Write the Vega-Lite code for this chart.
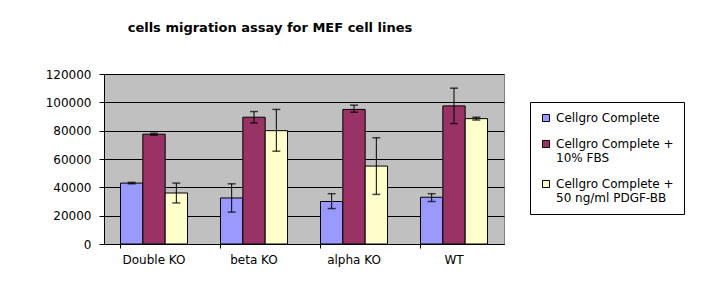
{
  "$schema": "https://vega.github.io/schema/vega-lite/v6.json",
  "width": 400,
  "height": 170,
  "autosize": {"type": "none"},
  "padding": {"left": 104, "top": 74, "right": 220, "bottom": 42},
  "background": "white",
  "title": {
    "text": "cells migration assay for MEF cell lines",
    "fontSize": 13,
    "fontWeight": "bold",
    "font": "DejaVu Sans",
    "color": "black",
    "anchor": "middle",
    "dx": -34,
    "offset": 33
  },
  "data": {
    "values": [
      {"line": "Double KO", "medium": "Cellgro Complete", "value": 43000, "lo": 42500, "hi": 43500},
      {"line": "Double KO", "medium": "Cellgro Complete + 10% FBS", "value": 77500, "lo": 76800, "hi": 78200},
      {"line": "Double KO", "medium": "Cellgro Complete + 50 ng/ml PDGF-BB", "value": 36000, "lo": 29000, "hi": 43000},
      {"line": "beta KO", "medium": "Cellgro Complete", "value": 32500, "lo": 22500, "hi": 42500},
      {"line": "beta KO", "medium": "Cellgro Complete + 10% FBS", "value": 89500, "lo": 85500, "hi": 93500},
      {"line": "beta KO", "medium": "Cellgro Complete + 50 ng/ml PDGF-BB", "value": 80000, "lo": 65500, "hi": 95000},
      {"line": "alpha KO", "medium": "Cellgro Complete", "value": 30000, "lo": 25000, "hi": 35500},
      {"line": "alpha KO", "medium": "Cellgro Complete + 10% FBS", "value": 95000, "lo": 93000, "hi": 98000},
      {"line": "alpha KO", "medium": "Cellgro Complete + 50 ng/ml PDGF-BB", "value": 55000, "lo": 35000, "hi": 75000},
      {"line": "WT", "medium": "Cellgro Complete", "value": 33000, "lo": 30000, "hi": 35500},
      {"line": "WT", "medium": "Cellgro Complete + 10% FBS", "value": 97500, "lo": 85000, "hi": 110000},
      {"line": "WT", "medium": "Cellgro Complete + 50 ng/ml PDGF-BB", "value": 88500, "lo": 87500, "hi": 89500}
    ]
  },
  "encoding": {
    "x": {
      "field": "line",
      "type": "nominal",
      "sort": ["Double KO", "beta KO", "alpha KO", "WT"],
      "scale": {"paddingInner": 0.33, "paddingOuter": 0.165},
      "axis": {
        "title": null,
        "labelAngle": 0,
        "labelFont": "DejaVu Sans",
        "labelFontSize": 12,
        "labelColor": "black",
        "labelPadding": 6,
        "tickColor": "black",
        "tickSize": 4,
        "bandPosition": 0,
        "domainColor": "black",
        "grid": false
      }
    },
    "xOffset": {
      "field": "medium",
      "type": "nominal",
      "scale": {"domain": ["Cellgro Complete", "Cellgro Complete + 10% FBS", "Cellgro Complete + 50 ng/ml PDGF-BB"], "paddingInner": 0, "paddingOuter": 0}
    }
  },
  "layer": [
    {
      "mark": {"type": "bar", "stroke": "black", "strokeWidth": 1},
      "encoding": {
        "y": {
          "field": "value",
          "type": "quantitative",
          "scale": {"domain": [0, 120000]},
          "axis": {"title": null, "values": [0, 20000, 40000, 60000, 80000, 100000, 120000], "format": "d"}
        },
        "color": {
          "field": "medium",
          "type": "nominal",
          "scale": {
            "domain": ["Cellgro Complete", "Cellgro Complete + 10% FBS", "Cellgro Complete + 50 ng/ml PDGF-BB"],
            "range": ["#9999FF", "#993366", "#FFFFCC"]
          },
          "legend": {
            "title": null,
            "orient": "none",
            "legendX": 426,
            "legendY": 28,
            "direction": "vertical",
            "strokeColor": "black",
            "fillColor": "white",
            "padding": 10,
            "symbolType": "square",
            "symbolSize": 50,
            "symbolStrokeColor": "black",
            "symbolStrokeWidth": 1,
            "labelFont": "DejaVu Sans",
            "labelFontSize": 12,
            "labelColor": "black",
            "labelLimit": 300,
            "rowPadding": 14,
            "labelExpr": "split(replace(datum.label, '+ ', '+|'), '|')"
          }
        }
      }
    },
    {
      "mark": {"type": "rule", "color": "black", "strokeWidth": 1},
      "encoding": {
        "y": {"field": "lo", "type": "quantitative", "axis": {"title": null, "values": [0, 20000, 40000, 60000, 80000, 100000, 120000], "format": "d"}},
        "y2": {"field": "hi"}
      }
    },
    {
      "mark": {"type": "tick", "color": "black", "size": 8, "thickness": 1.5},
      "encoding": {"y": {"field": "lo", "type": "quantitative", "axis": {"title": null, "values": [0, 20000, 40000, 60000, 80000, 100000, 120000], "format": "d"}}}
    },
    {
      "mark": {"type": "tick", "color": "black", "size": 8, "thickness": 1.5},
      "encoding": {"y": {"field": "hi", "type": "quantitative", "axis": {"title": null, "values": [0, 20000, 40000, 60000, 80000, 100000, 120000], "format": "d"}}}
    }
  ],
  "config": {
    "view": {"fill": "#C0C0C0", "stroke": "#808080"},
    "font": "DejaVu Sans",
    "axisY": {
      "labelOverlap": false,
      "labelFont": "DejaVu Sans",
      "labelFontSize": 12,
      "labelColor": "black",
      "labelPadding": 8,
      "tickColor": "black",
      "tickSize": 5,
      "domainColor": "black",
      "gridColor": "black",
      "gridOpacity": 1,
      "gridWidth": 1
    }
  }
}
